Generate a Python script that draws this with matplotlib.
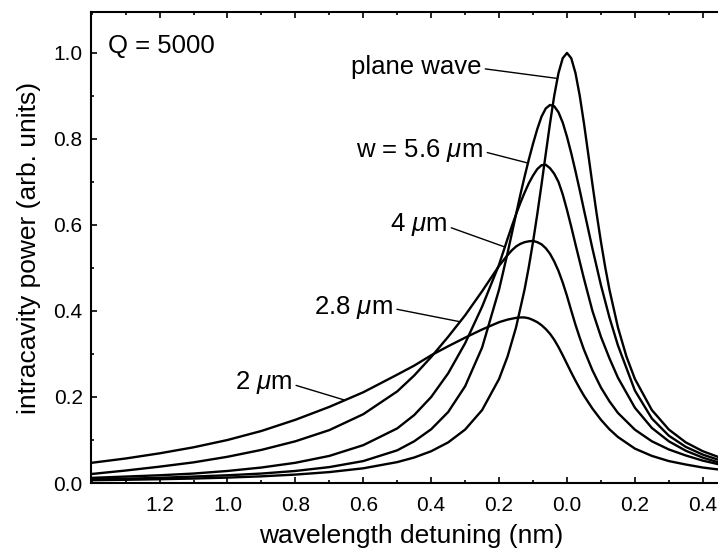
import numpy as np
import matplotlib
matplotlib.use('Agg')
import matplotlib.pyplot as plt
from matplotlib.ticker import FixedLocator, MultipleLocator, FuncFormatter

plt.rcParams['font.family'] = ['Liberation Sans', 'DejaVu Sans']
plt.rcParams['mathtext.fontset'] = 'custom'
plt.rcParams['mathtext.rm'] = 'Liberation Sans'
plt.rcParams['mathtext.it'] = 'Liberation Sans:italic'

# wavelength detuning (nm) and power
x_pw = [1.40, 1.30, 1.20, 1.10, 1.00, 0.90, 0.80, 0.70, 0.60, 0.50, 0.45, 0.40, 0.35, 0.30,
        0.25, 0.20, 0.175, 0.15, 0.125, 0.1125, 0.10, 0.0875, 0.075, 0.0625, 0.05, 0.0375,
        0.025, 0.0125, 0.0, -0.0125, -0.025, -0.0375, -0.05, -0.0625, -0.075, -0.0875,
        -0.10, -0.1125, -0.125, -0.15, -0.175, -0.20, -0.25, -0.30, -0.35, -0.40, -0.45]
y_pw = [0.0065, 0.0075, 0.0088, 0.0104, 0.0126, 0.0155, 0.0196, 0.0254, 0.0342, 0.0486,
        0.0593, 0.0739, 0.0944, 0.1243, 0.1696, 0.2420, 0.2943, 0.3620, 0.4497, 0.5022,
        0.5608, 0.6252, 0.6942, 0.7657, 0.8363, 0.9008, 0.9533, 0.9879, 1.0,
        0.9879, 0.9533, 0.9008, 0.8363, 0.7657, 0.6942, 0.6252, 0.5608, 0.5022, 0.4497,
        0.3620, 0.2943, 0.2420, 0.1696, 0.1243, 0.0944, 0.0739, 0.0593]

x_w = [1.40, 1.30, 1.20, 1.10, 1.00, 0.90, 0.80, 0.70, 0.60, 0.50, 0.45, 0.40, 0.35, 0.30,
       0.25, 0.20, 0.175, 0.1625, 0.15, 0.1375, 0.125, 0.1125, 0.10, 0.0875, 0.075, 0.0625,
       0.05, 0.0375, 0.025, 0.0125, 0.0, -0.0125, -0.025, -0.0375, -0.05, -0.075, -0.10,
       -0.125, -0.15, -0.20, -0.25, -0.30, -0.35, -0.40, -0.45]
y_56 = [0.009, 0.010, 0.012, 0.015, 0.018, 0.022, 0.028, 0.037, 0.051, 0.076, 0.097, 0.125,
        0.165, 0.225, 0.315, 0.450, 0.535, 0.580, 0.625, 0.670, 0.712, 0.752, 0.789, 0.823,
        0.852, 0.871, 0.879, 0.876, 0.862, 0.838, 0.805, 0.767, 0.725, 0.681, 0.635, 0.545,
        0.460, 0.385, 0.320, 0.215, 0.150, 0.110, 0.084, 0.066, 0.053]
y_4 = [0.012, 0.015, 0.018, 0.022, 0.028, 0.036, 0.047, 0.063, 0.088, 0.127, 0.158, 0.200,
       0.255, 0.325, 0.410, 0.508, 0.568, 0.597, 0.625, 0.651, 0.675, 0.697, 0.715, 0.730,
       0.739, 0.740, 0.732, 0.719, 0.700, 0.671, 0.635, 0.596, 0.555, 0.515, 0.475, 0.400,
       0.340, 0.290, 0.245, 0.175, 0.128, 0.097, 0.075, 0.059, 0.047]
y_28 = [0.021, 0.029, 0.038, 0.048, 0.061, 0.077, 0.097, 0.123, 0.160, 0.213, 0.250, 0.293,
        0.340, 0.390, 0.446, 0.505, 0.530, 0.541, 0.550, 0.556, 0.560, 0.562, 0.563, 0.560,
        0.555, 0.546, 0.533, 0.515, 0.493, 0.466, 0.435, 0.401, 0.368, 0.338, 0.310, 0.262,
        0.222, 0.190, 0.163, 0.124, 0.097, 0.078, 0.064, 0.052, 0.043]
y_2 = [0.047, 0.057, 0.069, 0.083, 0.100, 0.121, 0.147, 0.177, 0.211, 0.252, 0.273, 0.297,
       0.318, 0.338, 0.357, 0.374, 0.380, 0.382, 0.384, 0.385, 0.385, 0.383, 0.379, 0.374,
       0.367, 0.358, 0.347, 0.333, 0.316, 0.297, 0.277, 0.257, 0.238, 0.220, 0.203, 0.173,
       0.147, 0.125, 0.107, 0.080, 0.063, 0.051, 0.043, 0.036, 0.031]

curves = [(x_pw, y_pw), (x_w, y_56), (x_w, y_4), (x_w, y_28), (x_w, y_2)]
labels = ['plane wave', 'w = 5.6 $\\mu$m', '4 $\\mu$m', '2.8 $\\mu$m', '2 $\\mu$m']
label_xy = [(0.253, 0.967), (0.247, 0.774), (0.353, 0.600), (0.513, 0.409), (0.810, 0.233)]
leader_x = [0.028, 0.115, 0.183, 0.315, 0.654]

x_ticks = [1.2, 1.0, 0.8, 0.6, 0.4, 0.2, 0.0, -0.2, -0.4]
y_ticks = [0.0, 0.2, 0.4, 0.6, 0.8, 1.0]

fig = plt.figure(figsize=(7.18, 5.5), dpi=100)
ax = fig.add_axes([0.1267, 0.1218, 0.8928, 0.8562])

for (xs, ys) in curves:
    ax.plot(xs, ys, color='black', lw=1.7, solid_joinstyle='round')

for (xs, ys), lab, (tx, ty), lx in zip(curves, labels, label_xy, leader_x):
    ly = np.interp(lx, xs[::-1], ys[::-1])
    ax.annotate(lab, xy=(lx, ly), xytext=(tx, ty), ha='right', va='center',
                fontsize=18.5,
                arrowprops=dict(arrowstyle='-', lw=1.0, color='black',
                                shrinkA=1, shrinkB=0, relpos=(1.0, 0.45)))

ax.text(1.352, 1.016, 'Q = 5000', fontsize=18.5, ha='left', va='center')

ax.set_xlim(1.402, -0.486)
ax.set_ylim(0.0, 1.095)

ax.xaxis.set_major_locator(FixedLocator(x_ticks))
ax.xaxis.set_minor_locator(MultipleLocator(0.1))
ax.xaxis.set_major_formatter(FuncFormatter(lambda v, p: '%.1f' % abs(v)))
ax.yaxis.set_major_locator(FixedLocator(y_ticks))
ax.yaxis.set_minor_locator(MultipleLocator(0.1))
ax.yaxis.set_major_formatter(FuncFormatter(lambda v, p: '%.1f' % v))

ax.tick_params(which='both', direction='in', top=True, right=True, width=1.2)
ax.tick_params(which='major', length=4.5)
ax.tick_params(which='minor', length=2.5)
ax.tick_params(axis='x', pad=9)
ax.tick_params(axis='y', pad=6)
for lab in ax.get_xticklabels() + ax.get_yticklabels():
    lab.set_family(['Liberation Sans Narrow', 'Liberation Sans'])
    lab.set_fontsize(15)

for sp in ax.spines.values():
    sp.set_linewidth(1.5)

ax.set_xlabel('wavelength detuning (nm)', fontsize=19, labelpad=7)
ax.set_ylabel('intracavity power (arb. units)', fontsize=19, labelpad=9)

fig.savefig('out.png', dpi=100)
